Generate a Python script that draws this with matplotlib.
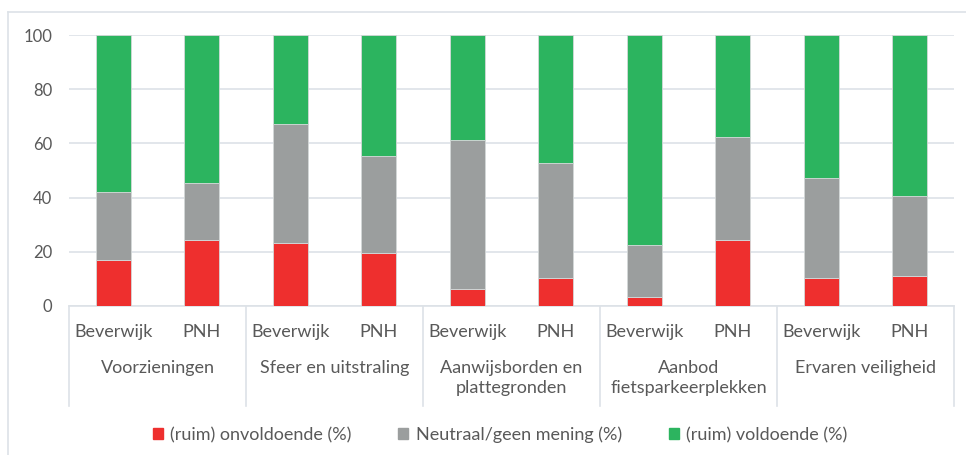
import matplotlib.pyplot as plt
import matplotlib.patches as mpatches
from matplotlib.lines import Line2D
import numpy as np

plt.rcParams['font.family'] = ['Lato', 'DejaVu Sans']

groups = ['Voorzieningen', 'Sfeer en uitstraling', 'Aanwijsborden en\nplattegronden',
          'Aanbod\nfietsparkeerplekken', 'Ervaren veiligheid']
regions = ['Beverwijk', 'PNH']
onvoldoende = [17.1, 24.4, 23.2, 19.6, 6.4, 10.5, 3.2, 24.4, 10.5, 11.1]
neutraal = [24.8, 21.0, 44.0, 35.6, 54.8, 42.2, 19.2, 38.0, 36.8, 29.5]
voldoende = [100 - a - b for a, b in zip(onvoldoende, neutraal)]
series_names = ['(ruim) onvoldoende (%)', 'Neutraal/geen mening (%)', '(ruim) voldoende (%)']
colors = ['#EE2F2E', '#9B9E9E', '#2CB45F']

W, H = 966, 455
fig = plt.figure(figsize=(W / 100, H / 100), dpi=100)
ax = fig.add_axes([69 / W, (H - 306) / H, 885 / W, 271 / H])

x = np.arange(len(onvoldoende))
bottom = np.zeros(len(x))
for vals, col in zip([onvoldoende, neutraal, voldoende], colors):
    ax.bar(x, vals, width=0.4, bottom=bottom, color=col, edgecolor='#d4d8d8',
           linewidth=0.6, zorder=3)
    bottom += np.array(vals)

ax.set_xlim(-0.5, 9.5)
ax.set_ylim(0, 100)
ax.set_yticks(range(0, 101, 20))
ax.grid(axis='y', color='#dde2e7', linewidth=1.2, zorder=0)
ax.tick_params(axis='y', length=0, pad=12, labelsize=12, labelcolor='#595959')
ax.set_xticks([])
for s in ['top', 'right', 'left']:
    ax.spines[s].set_visible(False)
ax.spines['bottom'].set_color('#dde2e7')
ax.spines['bottom'].set_linewidth(1.2)

txt = '#595959'
fs = 13
for i in x:
    ax.text(i, -0.096, regions[i % 2], transform=ax.get_xaxis_transform(),
            ha='center', va='center', fontsize=fs, color=txt)
for g, name in enumerate(groups):
    ax.text(2 * g + 0.5, -0.20, name, transform=ax.get_xaxis_transform(),
            ha='center', va='top', fontsize=fs, color=txt, linespacing=1.3)
for b in np.arange(-0.5, 10, 2):
    ax.add_line(Line2D([b, b], [0, -0.37], transform=ax.get_xaxis_transform(),
                       color='#dde2e7', linewidth=1.2, clip_on=False))

# frame around the chart (top and left visible)
fig.add_artist(Line2D([7.5 / W, 7.5 / W], [0, 1 - 12 / H], transform=fig.transFigure,
                      color='#dde2e7', linewidth=1.2))
fig.add_artist(Line2D([7.5 / W, 1], [1 - 12 / H, 1 - 12 / H], transform=fig.transFigure,
                      color='#dde2e7', linewidth=1.2))

handles = [mpatches.Patch(color=c, label=n) for c, n in zip(colors, series_names)]
fig.legend(handles=handles, loc='center', bbox_to_anchor=(500 / W, 1 - 435 / H), ncol=3,
           frameon=False, fontsize=fs, handlelength=0.55, handleheight=0.55,
           handletextpad=0.4, columnspacing=2.6, labelcolor=txt)

fig.savefig('out.png', dpi=100)
